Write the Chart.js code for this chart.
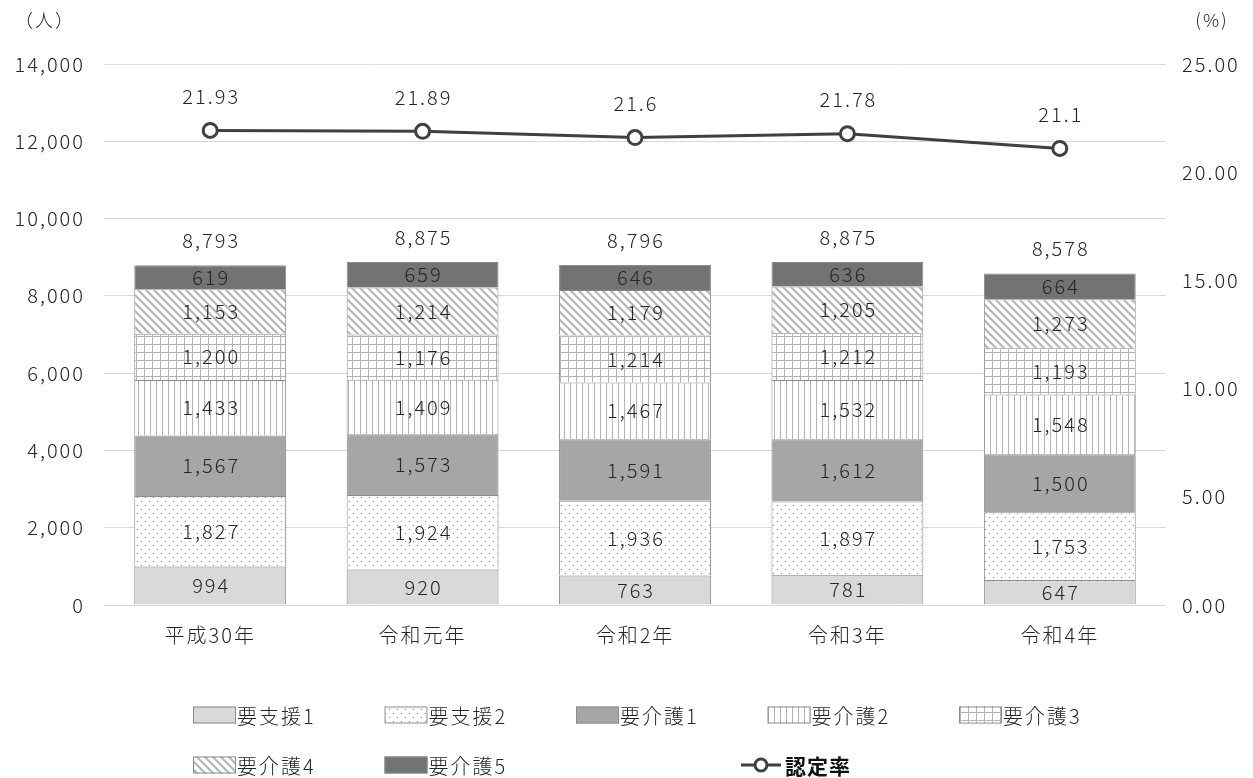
<!DOCTYPE html>
<html><head><meta charset="utf-8">
<script src="https://cdn.jsdelivr.net/npm/chart.js@4"></script>
<style>html,body{margin:0;padding:0;background:#fff}</style>
</head><body>
<canvas id="c" width="1253" height="778"></canvas>
<script>
const categories = ['平成30年','令和元年','令和2年','令和3年','令和4年'];
const seriesNames = ['要支援1','要支援2','要介護1','要介護2','要介護3','要介護4','要介護5'];
const shien1 = [994, 920, 763, 781, 647];
const shien2 = [1827, 1924, 1936, 1897, 1753];
const kaigo1 = [1567, 1573, 1591, 1612, 1500];
const kaigo2 = [1433, 1409, 1467, 1532, 1548];
const kaigo3 = [1200, 1176, 1214, 1212, 1193];
const kaigo4 = [1153, 1214, 1179, 1205, 1273];
const kaigo5 = [619, 659, 646, 636, 664];
const totals = [8793, 8875, 8796, 8875, 8578];
const rateName = '認定率';
const rate = [21.93, 21.89, 21.6, 21.78, 21.1];
const leftUnit = '（人）';
const rightUnit = '(%)';

const FONT = '"Noto Sans CJK JP", "Noto Sans", sans-serif';
const TXT = '#262626';
const LS = '2px';

function tile(w, h, draw, bg) {
  const c = document.createElement('canvas'); c.width = w; c.height = h;
  const x = c.getContext('2d');
  x.fillStyle = bg || '#fff'; x.fillRect(0, 0, w, h);
  draw(x);
  return x.createPattern(c, 'repeat');
}
const pats = [
  '#d9d9d9',
  tile(8, 8, x => { x.fillStyle = '#8c8c8c'; x.fillRect(1, 1, 1, 1); x.fillRect(5, 5, 1, 1); }),
  '#a6a6a6',
  tile(6, 6, x => { x.fillStyle = '#b3b3b3'; x.fillRect(0, 0, 1, 6); }),
  tile(8, 8, x => { x.fillStyle = '#b3b3b3'; x.fillRect(0, 0, 1, 8); x.fillRect(0, 0, 8, 1); }),
  tile(8, 8, x => { x.strokeStyle = '#b3b3b3'; x.lineWidth = 2;
    x.beginPath(); x.moveTo(-2, -2); x.lineTo(10, 10); x.moveTo(-10, -2); x.lineTo(2, 10); x.moveTo(6, -2); x.lineTo(18, 10); x.stroke(); }),
  '#737373'
];
const seriesData = [shien1, shien2, kaigo1, kaigo2, kaigo3, kaigo4, kaigo5];

const fmt = v => v.toLocaleString('en-US');

const barSets = seriesNames.map((n, i) => ({
  type: 'bar', label: n, data: seriesData[i], yAxisID: 'y', stack: 's',
  backgroundColor: pats[i], borderColor: '#8c8c8c', borderWidth: 1,
  barPercentage: 0.715, categoryPercentage: 1, order: 2
}));
const lineSet = {
  type: 'line', label: rateName, data: rate, yAxisID: 'y2',
  borderColor: '#404040', borderWidth: 3, pointRadius: 7, pointBackgroundColor: '#fff',
  pointBorderColor: '#404040', pointBorderWidth: 3, order: 1, tension: 0
};

const labelPlugin = {
  id: 'labels',
  beforeLayout(chart) { chart.ctx.letterSpacing = LS; },
  beforeDraw(chart) { chart.ctx.letterSpacing = LS; },
  afterDatasetsDraw(chart) {
    const ctx = chart.ctx;
    ctx.save();
    ctx.letterSpacing = LS;
    ctx.font = '300 20px ' + FONT;
    ctx.fillStyle = TXT;
    ctx.textAlign = 'center';
    ctx.textBaseline = 'middle';
    for (let i = 0; i < seriesNames.length; i++) {
      const meta = chart.getDatasetMeta(i);
      meta.data.forEach((el, j) => {
        ctx.fillText(fmt(seriesData[i][j]), el.x + 1, (el.y + el.base) / 2);
      });
    }
    const top = chart.getDatasetMeta(seriesNames.length - 1);
    top.data.forEach((el, j) => ctx.fillText(fmt(totals[j]), el.x + 1, el.y - 25));
    const lm = chart.getDatasetMeta(seriesNames.length);
    lm.data.forEach((el, j) => ctx.fillText(String(rate[j]), el.x + 1, el.y - 34));
    const ca = chart.chartArea;
    ctx.font = '300 18px ' + FONT;
    ctx.fillText(leftUnit, 45, ca.top - 44);
    ctx.fillText(rightUnit, 1212, ca.top - 44);
    ctx.restore();
  },
  afterDraw(chart) {
    const ctx = chart.ctx;
    ctx.save();
    ctx.letterSpacing = LS;
    ctx.font = '300 20px ' + FONT;
    ctx.textBaseline = 'middle';
    ctx.textAlign = 'left';
    const col0 = 193, colW = 191.5, row0 = 715, rowH = 50, sw = 43, sh = 17;
    seriesNames.forEach((n, i) => {
      const c = i % 5, r = Math.floor(i / 5);
      const x = col0 + c * colW, y = row0 + r * rowH;
      ctx.fillStyle = pats[i];
      ctx.fillRect(x, y - sh / 2, sw, sh);
      ctx.strokeStyle = '#8c8c8c'; ctx.lineWidth = 1;
      ctx.strokeRect(x + 0.5, y - sh / 2 + 0.5, sw - 1, sh - 1);
      ctx.fillStyle = TXT;
      ctx.fillText(n, x + sw + 1, y + 1);
    });
    const lx = 741, ly = row0 + rowH;
    ctx.strokeStyle = '#404040'; ctx.lineWidth = 3;
    ctx.beginPath(); ctx.moveTo(lx, ly); ctx.lineTo(lx + 40, ly); ctx.stroke();
    ctx.beginPath(); ctx.arc(lx + 20, ly, 6, 0, Math.PI * 2); ctx.fillStyle = '#fff'; ctx.fill(); ctx.stroke();
    ctx.fillStyle = '#111';
    ctx.letterSpacing = '1px';
    ctx.font = 'bold 21px ' + FONT;
    ctx.fillText(rateName, lx + 44, ly + 1);
    ctx.restore();
  }
};

new Chart(document.getElementById('c'), {
  data: { labels: categories, datasets: [...barSets, lineSet] },
  options: {
    responsive: false, animation: false,
    layout: { padding: { top: 64, left: 0, right: 0, bottom: 0 } },
    plugins: { legend: { display: false }, tooltip: { enabled: false } },
    scales: {
      x: {
        stacked: true,
        grid: { display: false, drawTicks: false },
        border: { display: false },
        ticks: { color: TXT, font: { family: FONT, size: 20, weight: 300 }, padding: 18 },
        afterFit(s) { s.height = 173; }
      },
      y: {
        stacked: true, min: 0, max: 14000,
        ticks: { stepSize: 2000, color: TXT, font: { family: FONT, size: 20, weight: 300 }, padding: 19,
          callback: v => fmt(v) },
        grid: { color: '#d9d9d9', drawTicks: false },
        border: { display: false },
        afterFit(s) { s.width = 104; }
      },
      y2: {
        position: 'right', min: 0, max: 25,
        ticks: { stepSize: 5, color: TXT, font: { family: FONT, size: 20, weight: 300 }, padding: 16,
          callback: v => v.toFixed(2) },
        grid: { display: false, drawTicks: false },
        border: { display: false },
        afterFit(s) { s.width = 87; }
      }
    }
  },
  plugins: [labelPlugin]
});
</script>
</body></html>
